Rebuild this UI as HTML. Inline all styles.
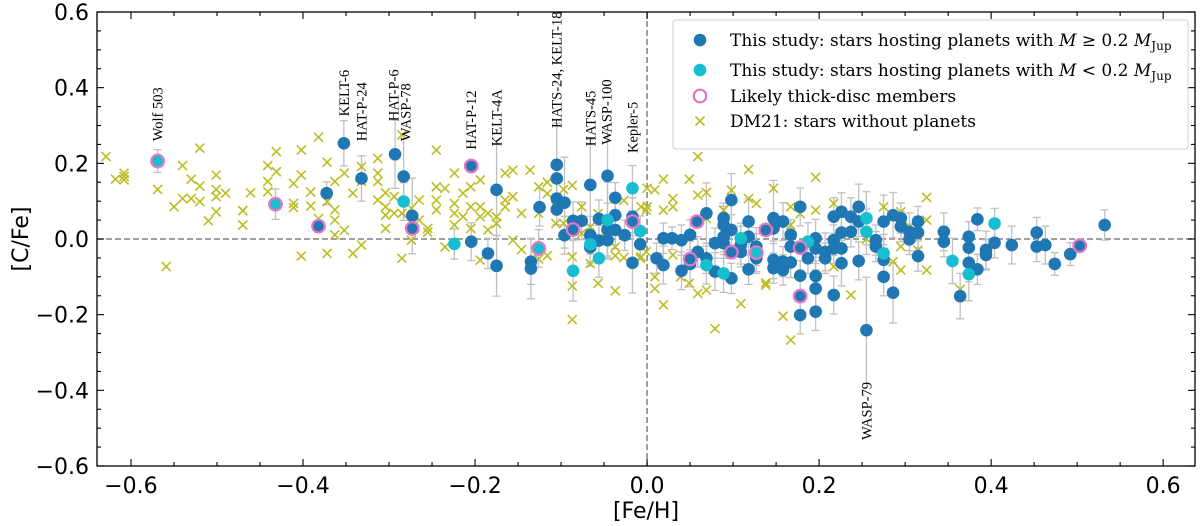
<!DOCTYPE html>
<html><head><meta charset="utf-8"><style>
body{margin:0;background:#fff;}
svg{display:block;}
.tk{font-family:"DejaVu Sans","Liberation Sans",sans-serif;font-size:22px;fill:#000;}
.ann{font-family:"Liberation Serif","DejaVu Serif",serif;font-size:14.5px;fill:#000;}
.lg{font-family:"DejaVu Serif","Liberation Serif",serif;font-size:17px;fill:#000;}
</style></head><body>
<svg id="chart" width="1200" height="526" viewBox="0 0 1200 526" xmlns="http://www.w3.org/2000/svg">
<g id="grid"></g>
</svg>
<script>
const xTicks=[-0.6,-0.4,-0.2,0.0,0.2,0.4,0.6];
const xTickLabels=["−0.6","−0.4","−0.2","0.0","0.2","0.4","0.6"];
const yTicks=[0.6,0.4,0.2,0.0,-0.2,-0.4,-0.6];
const yTickLabels=["0.6","0.4","0.2","0.0","−0.2","−0.4","−0.6"];
const blueFe=[-0.3525,-0.3725,-0.332,-0.293,-0.283,-0.273,-0.2044,-0.185,-0.175,-0.175,-0.135,-0.135,-0.125,-0.105,-0.105,-0.105,-0.105,-0.096,-0.096,-0.086,-0.076,-0.066,-0.066,-0.066,-0.056,-0.056,-0.046,-0.046,-0.046,-0.037,-0.037,-0.037,-0.026,-0.017,-0.017,-0.008,
0.011,0.019,0.019,0.029,0.040,0.040,0.050,0.050,0.059,0.069,0.069,0.079,0.079,0.089,0.089,0.089,0.089,0.098,0.098,0.098,0.109,0.109,0.118,0.118,0.118,0.127,0.127,0.147,0.147,0.147,0.147,0.158,0.158,0.158,0.167,0.167,0.167,0.178,0.178,0.178,0.187,0.196,0.196,0.196,0.196,0.196,0.207,0.207,0.217,0.217,0.217,0.217,0.226,0.226,0.226,0.226,0.237,0.237,0.246,0.246,0.246,0.255,0.266,0.266,0.275,0.275,0.275,0.286,0.286,0.295,0.295,0.305,0.305,0.315,0.315,0.315,0.345,0.345,0.364,0.374,0.374,0.374,0.384,0.384,0.394,0.394,0.404,0.424,0.453,0.453,0.463,0.474,0.492,0.532];
const blueC=[0.253,0.121,0.160,0.224,0.165,0.061,-0.007,-0.038,0.130,-0.071,-0.060,-0.078,0.084,0.196,0.160,0.107,0.078,0.096,0.010,0.048,0.048,0.143,0.010,-0.022,0.053,-0.004,0.167,0.025,-0.003,0.109,0.063,0.024,0.010,0.059,-0.063,-0.014,
-0.051,0.002,-0.069,0.002,-0.003,-0.084,0.011,-0.066,-0.034,0.068,-0.051,-0.011,-0.086,0.055,0.037,0.006,-0.011,0.103,0.024,-0.104,-0.016,-0.034,0.046,0.006,-0.080,-0.020,-0.051,0.055,0.028,-0.055,-0.077,0.046,-0.060,-0.082,0.011,-0.020,-0.062,0.085,-0.097,-0.201,-0.051,0.002,-0.025,-0.098,-0.131,-0.192,-0.034,-0.051,0.059,-0.003,-0.025,-0.148,0.072,0.017,-0.025,-0.064,0.059,0.019,0.085,0.046,-0.058,-0.241,-0.003,-0.020,0.046,-0.055,-0.100,0.063,-0.142,0.055,0.033,0.019,-0.001,0.046,0.017,-0.045,0.019,-0.007,-0.151,0.006,-0.023,-0.063,0.052,-0.080,-0.029,-0.042,-0.010,-0.016,0.017,-0.020,-0.016,-0.066,-0.040,0.037];
const blueErr=[0.06,0.03,0.06,0.09,0.10,0.10,0.05,0.04,0.12,0.08,0.06,0.08,0.05,0.11,0.05,0.04,0.04,0.12,0.05,0.05,0.05,0.12,0.05,0.05,0.05,0.04,0.12,0.07,0.05,0.04,0.05,0.05,0.04,0.05,0.08,0.04,
0.04,0.04,0.05,0.03,0.04,0.05,0.04,0.06,0.04,0.08,0.04,0.04,0.05,0.04,0.05,0.04,0.04,0.07,0.04,0.04,0.05,0.04,0.06,0.05,0.04,0.05,0.04,0.10,0.04,0.05,0.04,0.05,0.04,0.04,0.04,0.05,0.04,0.05,0.04,0.05,0.04,0.05,0.04,0.04,0.05,0.05,0.05,0.04,0.05,0.04,0.04,0.05,0.05,0.04,0.04,0.06,0.05,0.04,0.06,0.04,0.05,0.14,0.04,0.04,0.07,0.04,0.05,0.06,0.08,0.04,0.04,0.05,0.04,0.04,0.04,0.04,0.05,0.04,0.06,0.04,0.04,0.05,0.03,0.04,0.05,0.04,0.04,0.05,0.04,0.04,0.05,0.03,0.03,0.04];
const cyanFe=[-0.569,-0.432,-0.283,-0.224,-0.126,-0.086,-0.066,-0.056,-0.046,-0.017,-0.008,0.069,0.089,0.109,0.127,0.187,0.255,0.255,0.275,0.355,0.374,0.404];
const cyanC=[0.206,0.092,0.099,-0.013,-0.025,-0.084,-0.014,-0.051,0.050,0.134,0.021,-0.069,-0.091,0.002,-0.036,-0.007,0.055,0.019,-0.038,-0.058,-0.093,0.041];
const cyanErr=[0.03,0.04,0.05,0.04,0.05,0.08,0.05,0.05,0.10,0.06,0.04,0.05,0.05,0.04,0.05,0.05,0.07,0.06,0.05,0.06,0.07,0.04];
const thickFe=[-0.569,-0.432,-0.382,-0.273,-0.2044,-0.126,-0.086,-0.017,0.058,0.050,0.098,0.127,0.138,0.178,0.178,0.503];
const thickC=[0.206,0.092,0.034,0.028,0.193,-0.025,0.025,0.046,0.046,-0.053,-0.035,-0.036,0.024,-0.023,-0.151,-0.018];
const thickFill=["c","c","b","b","b","c","b","b","b","b","b","c","b","b","b","b"];
const dmFe=[-0.629,-0.618,-0.608,-0.608,-0.608,-0.569,-0.559,-0.550,-0.540,-0.540,-0.530,-0.530,-0.520,-0.520,-0.520,-0.510,-0.501,-0.501,-0.501,-0.501,-0.490,-0.470,-0.470,-0.461,-0.441,-0.441,-0.441,-0.431,-0.431,-0.411,-0.411,-0.411,-0.402,-0.402,-0.402,-0.391,-0.391,-0.382,-0.382,-0.372,-0.372,-0.372,-0.363,-0.363,-0.363,-0.363,-0.352,-0.352,-0.342,-0.342,-0.332,-0.332,-0.332,-0.313,-0.313,-0.313,-0.313,-0.304,-0.304,-0.304,-0.304,-0.294,-0.294,-0.285,-0.285,-0.285,-0.274,-0.274,-0.265,-0.265,-0.255,-0.255,-0.245,-0.245,-0.245,-0.245,-0.235,-0.235,-0.224,-0.224,-0.224,-0.224,-0.214,-0.214,-0.205,-0.205,-0.205,-0.194,-0.194,-0.194,-0.194,-0.185,-0.185,-0.175,-0.175,-0.165,-0.165,-0.165,-0.156,-0.156,-0.156,-0.146,-0.146,-0.136,-0.126,-0.126,-0.126,-0.116,-0.116,-0.116,-0.106,-0.106,-0.097,-0.097,-0.087,-0.087,-0.087,-0.087,-0.076,-0.076,-0.066,-0.066,-0.057,-0.057,-0.047,-0.047,-0.037,-0.037,-0.037,-0.037,-0.027,-0.027,-0.007,-0.007,-0.0,-0.0,
-0.008,-0.001,-0.001,0.009,0.009,0.009,0.019,0.019,0.019,0.030,0.030,0.030,0.039,0.049,0.049,0.059,0.059,0.059,0.069,0.069,0.069,0.079,0.089,0.089,0.098,0.109,0.118,0.118,0.127,0.138,0.138,0.147,0.158,0.167,0.167,0.167,0.178,0.196,0.196,0.217,0.217,0.237,0.255,0.275,0.286,0.295,0.295,0.295,0.305,0.315,0.325,0.325,0.325,0.345,0.345,0.364,0.384,0.542];
const dmC=[0.218,0.158,0.174,0.165,0.156,0.131,-0.073,0.085,0.194,0.107,0.158,0.107,0.240,0.140,0.099,0.048,0.169,0.131,0.112,0.072,0.121,0.075,0.037,0.122,0.194,0.152,0.125,0.231,0.178,0.147,0.094,0.083,0.235,0.169,-0.045,0.124,0.087,0.269,0.054,0.203,0.099,-0.038,0.152,0.077,0.050,0.011,0.174,0.023,0.121,-0.038,0.191,0.152,-0.016,0.213,0.174,0.152,0.103,0.122,0.085,0.063,0.028,0.112,0.068,0.275,0.068,-0.051,0.081,-0.003,0.103,0.050,0.028,0.018,0.235,0.138,0.103,0.077,0.134,-0.021,0.174,0.094,0.068,0.037,0.121,0.059,0.138,0.085,0.028,0.156,0.085,0.059,-0.056,0.068,0.024,0.059,0.041,0.174,0.103,0.085,0.182,0.112,-0.003,0.068,-0.028,0.182,0.138,0.068,-0.053,0.150,0.120,-0.044,0.085,0.041,0.131,0.041,0.142,-0.047,-0.124,-0.213,0.085,0.015,0.032,-0.065,0.067,-0.117,0.023,0.003,0.020,-0.021,-0.044,-0.137,0.102,-0.049,0.085,-0.047,
0.134,0.085,-0.051,0.076,-0.034,-0.131,0.130,-0.100,-0.174,0.158,0.076,-0.042,0.085,0.107,-0.100,0.158,-0.117,-0.144,0.218,0.116,-0.135,0.054,0.123,-0.237,0.076,0.054,0.129,-0.171,0.107,0.184,0.094,-0.122,-0.116,0.134,-0.204,-0.267,0.037,0.085,0.067,0.163,0.076,-0.073,0.094,-0.148,0.0,0.085,-0.060,-0.082,0.072,-0.020,0.033,-0.030,-0.082,0.110,0.050,0.0,0.0,-0.133];

const svg=document.getElementById('chart');
const NS='http://www.w3.org/2000/svg';
const L=97,R=1195,T=12,B=466;
const xMin=-0.6395,xMax=0.637,yMin=-0.6,yMax=0.6;
const sx=v=>L+(v-xMin)/(xMax-xMin)*(R-L);
const sy=v=>B-(v-yMin)/(yMax-yMin)*(B-T);
function mk(tag,attrs,parent){const e=document.createElementNS(NS,tag);for(const k in attrs)e.setAttribute(k,attrs[k]);(parent||svg).appendChild(e);return e;}

const h0=mk('line',{x1:L,x2:R,y1:sy(0),y2:sy(0),stroke:'#808080','stroke-width':1.5,'stroke-dasharray':'6,3'});


const v0=mk('line',{x1:sx(0),x2:sx(0),y1:T,y2:B,stroke:'#808080','stroke-width':1.5,'stroke-dasharray':'6,3'});



function errbars(xs,ys,es,name){
  const g=mk('g',{stroke:'#c0c0c0','stroke-width':1.3,fill:'none'});
  
  
  for(let i=0;i<xs.length;i++){
    const x=sx(xs[i]),y1=sy(ys[i]+es[i]),y2=sy(ys[i]-es[i]);
    mk('line',{x1:x,x2:x,y1:y1,y2:y2},g);
    mk('line',{x1:x-4,x2:x+4,y1:y1,y2:y1},g);
    mk('line',{x1:x-4,x2:x+4,y1:y2,y2:y2},g);
  }
}
errbars(blueFe,blueC,blueErr,'error-bars-large-planets');
errbars(cyanFe,cyanC,cyanErr,'error-bars-small-planets');

const gx=mk('g',{stroke:'#bcbd22','stroke-width':1.6});


for(let i=0;i<dmFe.length;i++){
  const x=sx(dmFe[i]),y=sy(dmC[i]),s=4.5;
  const p=mk('path',{d:`M${x-s},${y-s}L${x+s},${y+s}M${x-s},${y+s}L${x+s},${y-s}`},gx);
  
  
}
const gb=mk('g',{fill:'#1f77b4'});


for(let i=0;i<blueFe.length;i++){
  const c=mk('circle',{cx:sx(blueFe[i]),cy:sy(blueC[i]),r:6.3},gb);
  
  
}
const gc=mk('g',{fill:'#17becf'});


for(let i=0;i<cyanFe.length;i++){
  const c=mk('circle',{cx:sx(cyanFe[i]),cy:sy(cyanC[i]),r:6.3},gc);
  
  
}
const gp=mk('g',{stroke:'#e377c2','stroke-width':2.2});


for(let i=0;i<thickFe.length;i++){
  const c=mk('circle',{cx:sx(thickFe[i]),cy:sy(thickC[i]),r:6.3,fill:thickFill[i]==='c'?'#17becf':'#1f77b4'},gp);
  
  
}

const annNames=["Wolf 503","KELT-6","HAT-P-24","HAT-P-6","WASP-78","HAT-P-12","KELT-4A","HATS-24, KELT-18","HATS-45","WASP-100","Kepler-5"];
const annFe=[-0.569,-0.3525,-0.332,-0.295,-0.281,-0.2044,-0.175,-0.105,-0.066,-0.047,-0.017];
const annC=[0.253,0.319,0.253,0.306,0.253,0.231,0.240,0.288,0.240,0.244,0.222];
for(let i=0;i<annNames.length;i++){
  const x=sx(annFe[i])+5,y=sy(annC[i])-2;
  const t=mk('text',{x:x,y:y,class:'ann',transform:`rotate(-90 ${x} ${y})`});
  t.textContent=annNames[i];
  
  
}
{const x=sx(0.255)+5,y=sy(-0.378);
 const t=mk('text',{x:x,y:y,class:'ann','text-anchor':'end',transform:`rotate(-90 ${x} ${y})`});
 t.textContent='WASP-79';
 
 }

const fr=mk('rect',{x:L,y:T,width:R-L,height:B-T,fill:'none',stroke:'#000','stroke-width':1.3});


const gt=mk('g',{stroke:'#000','stroke-width':1.1});


for(let v=-0.6;v<=0.6001;v+=0.05){
  const x=sx(v),maj=Math.abs(Math.round(v*100)%20)===0,len=maj?7:4;
  mk('line',{x1:x,x2:x,y1:B,y2:B-len},gt);mk('line',{x1:x,x2:x,y1:T,y2:T+len},gt);
  const y=sy(v);
  mk('line',{x1:L,x2:L+len,y1:y,y2:y},gt);mk('line',{x1:R,x2:R-len,y1:y,y2:y},gt);
}
xTicks.forEach((v,i)=>{const t=mk('text',{x:sx(v),y:B+27,class:'tk','text-anchor':'middle'});t.textContent=xTickLabels[i];

});
yTicks.forEach((v,i)=>{const t=mk('text',{x:L-8,y:sy(v)+8,class:'tk','text-anchor':'end'});t.textContent=yTickLabels[i];

});
const xt=mk('text',{x:(L+R)/2,y:518,class:'tk','text-anchor':'middle','font-size':'24px'});xt.textContent='[Fe/H]';


const yt=mk('text',{x:28,y:(T+B)/2,class:'tk','text-anchor':'middle',transform:`rotate(-90 28 ${(T+B)/2})`});yt.textContent='[C/Fe]';



const lg=mk('g',{});


mk('rect',{x:673,y:20,width:515,height:129,rx:3,fill:'#fff','fill-opacity':0.85,stroke:'#d0d0d0'},lg);
const rows=[40,70,96,121];
mk('circle',{cx:700,cy:rows[0],r:6.3,fill:'#1f77b4'},lg);
mk('circle',{cx:700,cy:rows[1],r:6.3,fill:'#17becf'},lg);
mk('circle',{cx:700,cy:rows[2],r:6.3,fill:'#fff',stroke:'#e377c2','stroke-width':2.2},lg);
mk('path',{d:`M695.5,${rows[3]-4.5}L704.5,${rows[3]+4.5}M695.5,${rows[3]+4.5}L704.5,${rows[3]-4.5}`,stroke:'#bcbd22','stroke-width':1.6},lg);
const texts=[
 'This study: stars hosting planets with <tspan font-style="italic">M</tspan> ≥  0.2 <tspan font-style="italic">M</tspan><tspan font-size="12px" dy="4">Jup</tspan>',
 'This study: stars hosting planets with <tspan font-style="italic">M</tspan> &lt; 0.2 <tspan font-style="italic">M</tspan><tspan font-size="12px" dy="4">Jup</tspan>',
 'Likely thick-disc members','DM21: stars without planets'];
const lnames=['legend-large-planets','legend-small-planets','legend-thick-disc','legend-dm21'];
texts.forEach((s,i)=>{const t=mk('text',{x:730,y:rows[i]+6,class:'lg'},lg);t.innerHTML=s;

});
</script>
</body></html>
